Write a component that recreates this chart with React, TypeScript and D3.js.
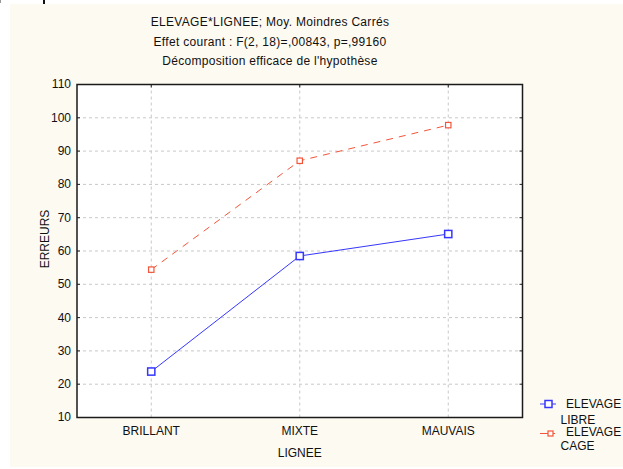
import React from "react";
import * as d3 from "d3";

const categories = ["BRILLANT", "MIXTE", "MAUVAIS"];
const libreValues = [23.8, 58.5, 65.1];
const cageValues = [54.4, 87.1, 97.8];
const yTicks = [10, 20, 30, 40, 50, 60, 70, 80, 90, 100, 110];
const titleLines = [
  "ELEVAGE*LIGNEE; Moy. Moindres Carrés",
  "Effet courant : F(2, 18)=,00843, p=,99160",
  "Décomposition efficace de l'hypothèse",
];
const legendLabels = [["ELEVAGE", "LIBRE"], ["ELEVAGE", "CAGE"]];

const W = 623;
const H = 469;
const plot = { left: 77, right: 522.5, top: 84.5, bottom: 417.5 };
const FONT = "'Liberation Sans', Arial, sans-serif";
const BLUE = "#3636ff";
const RED = "#f4553a";

export default function App() {
  const x = d3
    .scalePoint<string>()
    .domain(categories)
    .range([plot.left, plot.right])
    .padding(0.5);
  const y = d3.scaleLinear().domain([10, 110]).range([plot.bottom, plot.top]);
  const line = d3
    .line<number>()
    .x((_, i) => x(categories[i]) as number)
    .y((d) => y(d));

  return (
    <div style={{ position: "fixed", left: 0, top: 0 }}>
      <svg width={W} height={H} style={{ display: "block" }} fontFamily={FONT}>
        <rect x={0} y={0} width={W} height={H} fill="#ffffff" />
        <rect x={10} y={4} width={W - 10} height={463} fill="#fdfaf1" />
        <rect x={0} y={0} width={1} height={3} fill="#999" />
        <rect x={43} y={0} width={2} height={4} fill="#111" />

        {titleLines.map((t, i) => (
          <text
            key={i}
            x={270}
            y={26 + i * 19.5}
            textAnchor="middle"
            fontSize={12}
            letterSpacing={0.3}
            fill="#111"
          >
            {t}
          </text>
        ))}

        <rect
          x={plot.left}
          y={plot.top}
          width={plot.right - plot.left}
          height={plot.bottom - plot.top}
          fill="#ffffff"
        />

        {/* grid */}
        {yTicks.slice(1, -1).map((t) => (
          <line
            key={"gy" + t}
            x1={plot.left}
            x2={plot.right}
            y1={y(t)}
            y2={y(t)}
            stroke="#c8c8c8"
            strokeDasharray="3,3"
          />
        ))}
        {categories.map((c) => (
          <line
            key={"gx" + c}
            x1={x(c)}
            x2={x(c)}
            y1={plot.top}
            y2={plot.bottom}
            stroke="#c8c8c8"
            strokeDasharray="3,3"
          />
        ))}

        {/* inner ticks */}
        {yTicks.map((t) => (
          <g key={"t" + t}>
            <line x1={plot.left} x2={plot.left + 3} y1={y(t)} y2={y(t)} stroke="#222" />
            <line x1={plot.right - 3} x2={plot.right} y1={y(t)} y2={y(t)} stroke="#222" />
          </g>
        ))}
        {categories.map((c) => (
          <line
            key={"tt" + c}
            x1={x(c)}
            x2={x(c)}
            y1={plot.top}
            y2={plot.top + 3}
            stroke="#222"
          />
        ))}

        {/* frame */}
        <rect
          x={plot.left}
          y={plot.top}
          width={plot.right - plot.left}
          height={plot.bottom - plot.top}
          fill="none"
          stroke="#1a1a1a"
          strokeWidth={1.5}
        />

        {/* y tick labels */}
        {yTicks.map((t) => (
          <text
            key={"yl" + t}
            x={plot.left - 6}
            y={y(t)}
            dy="0.33em"
            textAnchor="end"
            fontSize={12}
            fill="#111"
          >
            {t}
          </text>
        ))}
        {/* x tick labels */}
        {categories.map((c) => (
          <text
            key={"xl" + c}
            x={x(c)}
            y={434.5}
            textAnchor="middle"
            fontSize={12}
            fill="#111"
          >
            {c}
          </text>
        ))}
        <text x={x("MIXTE")} y={457} textAnchor="middle" fontSize={12} fill="#111">
          LIGNEE
        </text>
        <text
          transform={`translate(48.5,239) rotate(-90)`}
          textAnchor="middle"
          fontSize={12}
          fill="#111"
        >
          ERREURS
        </text>

        {/* series */}
        <path d={line(cageValues) || ""} fill="none" stroke={RED} strokeWidth={1} strokeDasharray="7,6" />
        <path d={line(libreValues) || ""} fill="none" stroke={BLUE} strokeWidth={1} />
        {cageValues.map((v, i) => (
          <rect
            key={"cm" + i}
            x={(x(categories[i]) as number) - 2.7}
            y={y(v) - 2.7}
            width={5.4}
            height={5.4}
            fill="#fff"
            stroke={RED}
            strokeWidth={1.2}
          />
        ))}
        {libreValues.map((v, i) => (
          <rect
            key={"lm" + i}
            x={(x(categories[i]) as number) - 3.6}
            y={y(v) - 3.6}
            width={7.2}
            height={7.2}
            fill="#fff"
            stroke={BLUE}
            strokeWidth={1.5}
          />
        ))}

        {/* legend */}
        <line x1={540} x2={556} y1={404} y2={404} stroke={BLUE} />
        <rect x={545} y={400.5} width={7} height={7} fill="#fff" stroke={BLUE} strokeWidth={1.5} />
        <text x={566} y={408} fontSize={12} fill="#111">{legendLabels[0][0]}</text>
        <text x={560.5} y={423.5} fontSize={12} fill="#111">{legendLabels[0][1]}</text>

        <line x1={540} x2={555} y1={433.5} y2={433.5} stroke={RED} />
        <rect x={548} y={431} width={5} height={5} fill="#fff" stroke={RED} strokeWidth={1.2} />
        <text x={566} y={436} fontSize={12} fill="#111">{legendLabels[1][0]}</text>
        <text x={560.5} y={450} fontSize={12} fill="#111">{legendLabels[1][1]}</text>
      </svg>
    </div>
  );
}
